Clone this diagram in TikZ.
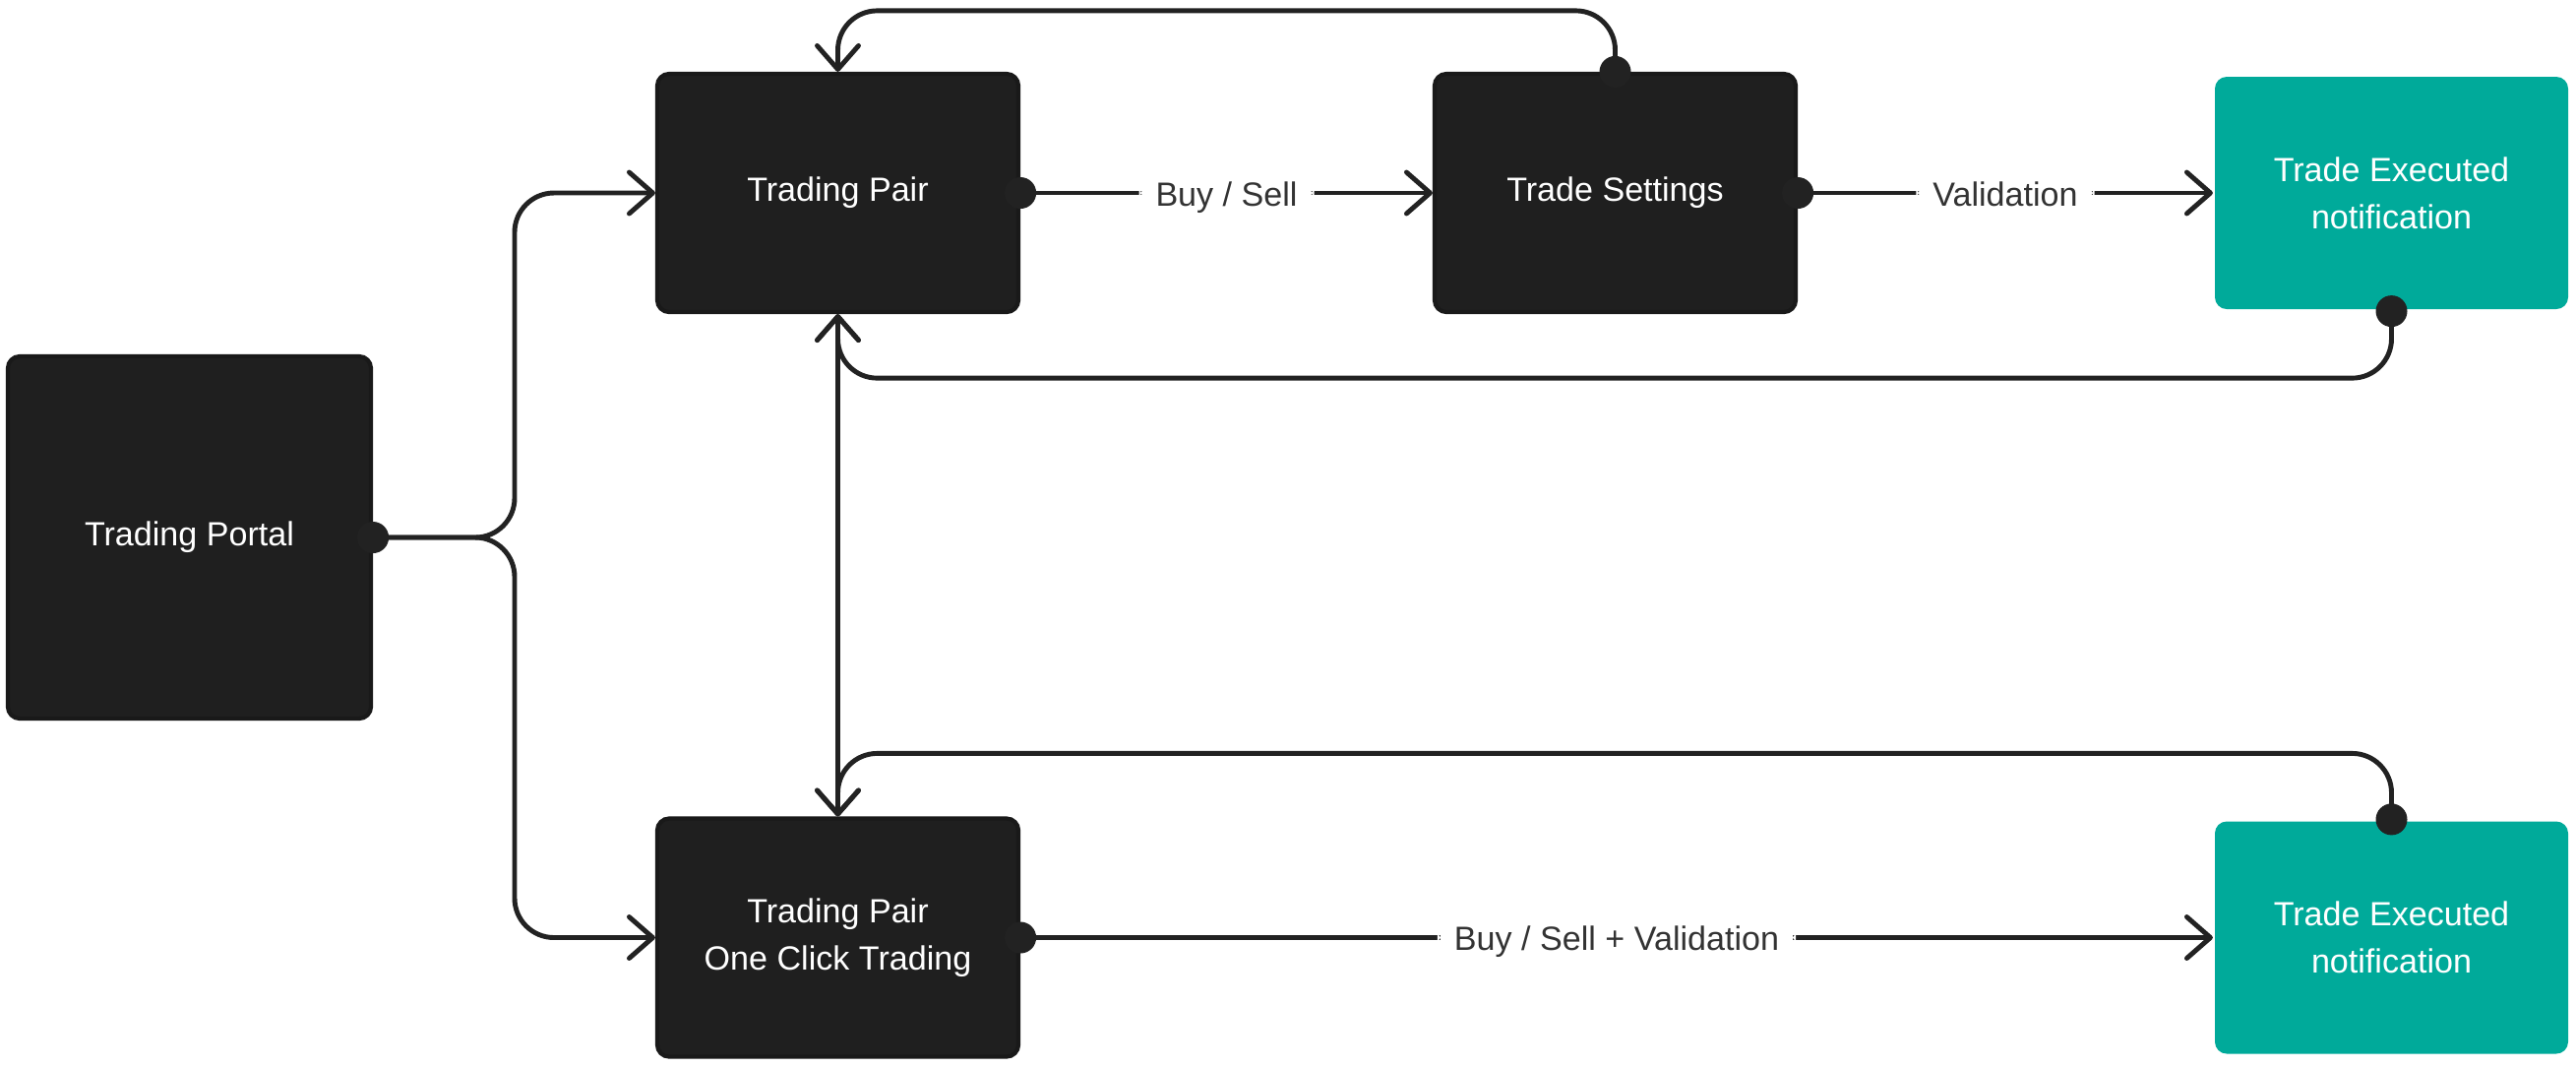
\documentclass[tikz,border=0pt]{standalone}
\usepackage{fontspec}
\setmainfont{Liberation Sans}
\usetikzlibrary{arrows.meta}

\definecolor{boxdark}{HTML}{1F1F1F}
\definecolor{boxedge}{HTML}{191919}
\definecolor{notifteal}{HTML}{00AA9A}
\definecolor{linedark}{HTML}{222222}
\definecolor{labelgrey}{HTML}{333333}

\tikzset{
	box/.style = {draw=boxedge, line width=1.2pt, fill=boxdark, rounded corners=1.2mm,
		text=white, align=center, minimum width=3.67cm, minimum height=2.42cm,
		font=\fontsize{9.7}{13.7}\selectfont},
	notif/.style = {box, draw=none, fill=notifteal, minimum width=3.59cm, minimum height=2.36cm},
	conn/.style = {draw=linedark, line width=1.4pt, rounded corners=4mm, ->},
	flowlabel/.style = {fill=white, text=labelgrey, inner xsep=1.7mm, inner ysep=1mm,
		text height=1.6ex, text depth=0.2ex, font=\fontsize{9.7}{12}\selectfont},
	dot/.style = {fill=linedark},
	>={Straight Barb[length=2.4mm, width=4.2mm, round]}
}

\begin{document}
\begin{tikzpicture}
	\useasboundingbox (0,0) rectangle (26.18,-10.84);
	%boxes
	\node[box, minimum width=3.69cm, minimum height=3.68cm] (portal) at (1.925,-5.46) {Trading Portal};
	\node[box] (pair) at (8.515,-1.96) {Trading Pair};
	\node[box] (settings) at (16.415,-1.96) {Trade Settings};
	\node[notif] (exec) at (24.305,-1.96) {Trade Executed\\notification};
	\node[box] (oneclick) at (8.515,-9.525) {Trading Pair\\One Click Trading};
	\node[notif] (execone) at (24.305,-9.525) {Trade Executed\\notification};

	\coordinate (split) at (5.23,-5.46);

	%portal to both pairs
	\draw[conn] (portal.east) -- (split) |- (pair.west);
	\draw[conn] (portal.east) -- (split) |- (oneclick.west);

	%flow to the right
	\draw[conn] (pair.east) -- node[flowlabel] {Buy / Sell} (settings.west);
	\draw[conn] (settings.east) -- node[flowlabel] {Validation} (exec.west);
	\draw[conn] (oneclick.east) -- node[flowlabel] {Buy / Sell + Validation} (execone.west);

	%loops back
	\draw[conn] (settings.north) -- ++(0,0.62) -| (pair.north);
	\draw[conn] (exec.south) -- ++(0,-0.68) -| (pair.south);
	\draw[conn] (execone.north) -- ++(0,0.67) -| (oneclick.north);
	\draw[conn, <->] (pair.south) -- (oneclick.north);

	%dots
	\foreach \spot in {portal.east, pair.east, settings.east, settings.north, exec.south, execone.north, oneclick.east}
		\fill[dot] (\spot) circle (0.16);
\end{tikzpicture}
\end{document}
